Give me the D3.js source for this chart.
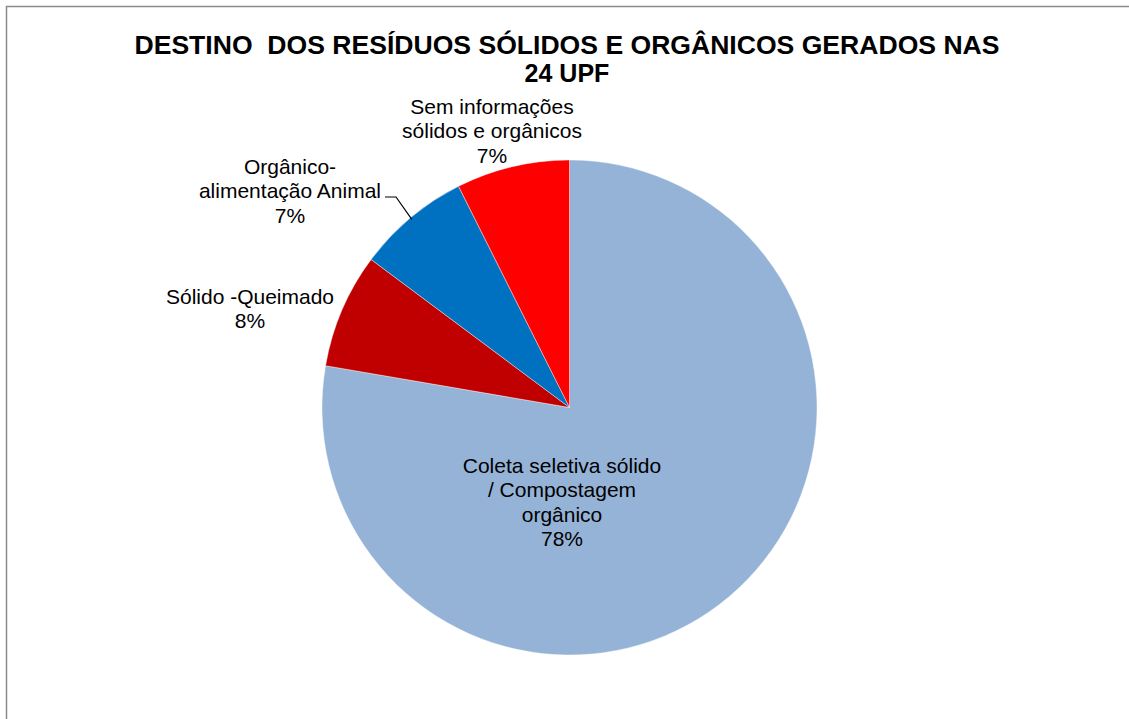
<!DOCTYPE html>
<html>
<head>
<meta charset="utf-8">
<script src="https://cdn.jsdelivr.net/npm/d3@7"></script>
<style>
    body { margin: 0; background: #fff; }
    text { font-family: "Liberation Sans", Arial, sans-serif; fill: #000; }
</style>
</head>
<body>
<div id="chart"></div>
<script>
(function () {
    // slice data, clockwise from 12 o'clock
    var categories = [
        "Coleta seletiva sólido / Compostagem orgânico",
        "Sólido -Queimado",
        "Orgânico- alimentação Animal",
        "Sem informações sólidos e orgânicos"
    ];
    var shares = [77.7, 7.5, 7.4, 7.4];
    var pctLabels = ["78%", "8%", "7%", "7%"];
    var labelLines = [
        ["Coleta seletiva sólido", "/ Compostagem", "orgânico"],
        ["Sólido -Queimado"],
        ["Orgânico-", "alimentação Animal"],
        ["Sem informações", "sólidos e orgânicos"]
    ];
    var colors = ["#95b3d7", "#c00000", "#0070c0", "#ff0000"];
    var titleLines = ["DESTINO  DOS RESÍDUOS SÓLIDOS E ORGÂNICOS GERADOS NAS", "24 UPF"];

    var W = 1129, H = 719;
    var cx = 569.5, cy = 407.5, R = 247.5;

    var svg = d3.select("#chart").append("svg")
        .attr("width", W)
        .attr("height", H);

    // chart frame (right/bottom edges fall outside the picture)
    svg.append("rect")
        .attr("x", 6.5).attr("y", 6.5)
        .attr("width", W + 20).attr("height", H + 20)
        .attr("fill", "none")
        .attr("stroke", "#8c8c8c")
        .attr("stroke-width", 1.5);

    // title
    var title = svg.append("text")
        .attr("text-anchor", "middle")
        .attr("font-size", 25)
        .attr("font-weight", "bold")
        .attr("xml:space", "preserve")
        .style("white-space", "pre");
    title.selectAll("tspan")
        .data(titleLines)
        .enter().append("tspan")
        .attr("x", 567)
        .attr("y", function (d, i) { return 54 + i * 28; })
        .text(function (d) { return d; });
    title.select("tspan")
        .attr("textLength", 865)
        .attr("lengthAdjust", "spacingAndGlyphs");

    var data = categories.map(function (c, i) {
        return {name: c, value: shares[i], pct: pctLabels[i], lines: labelLines[i], color: colors[i]};
    });

    var pie = d3.pie().sort(null).value(function (d) { return d.value; });
    var arc = d3.arc().innerRadius(0).outerRadius(R);
    var arcs = pie(data);

    var g = svg.append("g").attr("transform", "translate(" + cx + "," + cy + ")");
    g.selectAll("path.slice")
        .data(arcs)
        .enter().append("path")
        .attr("class", "slice")
        .attr("d", arc)
        .attr("fill", function (d) { return d.data.color; })
        .attr("stroke", "#ffffff")
        .attr("stroke-width", 0.4);

    // label anchors: centre x and first baseline (absolute)
    var labelPos = [
        {x: 562, y: 473},
        {x: 250, y: 304},
        {x: 290, y: 174},
        {x: 492, y: 114}
    ];

    var lbl = svg.append("g").attr("font-size", 21).attr("text-anchor", "middle");
    arcs.forEach(function (a, i) {
        var p = labelPos[i];
        var lines = a.data.lines.concat([a.data.pct]);
        var t = lbl.append("text");
        lines.forEach(function (s, j) {
            t.append("tspan")
                .attr("x", p.x)
                .attr("y", p.y + j * 24.3)
                .text(s);
        });
    });

    // leader line for the "alimentação Animal" slice, to the slice's mid-angle
    var mid = arcs[2];
    var ang = (mid.startAngle + mid.endAngle) / 2;
    var tip = [cx + Math.sin(ang) * (R - 2), cy - Math.cos(ang) * (R - 2)];
    svg.append("path")
        .attr("d", d3.line()([[385, 197], [396, 197], tip]))
        .attr("fill", "none")
        .attr("stroke", "#000")
        .attr("stroke-width", 1.2);
})();
</script>
</body>
</html>
